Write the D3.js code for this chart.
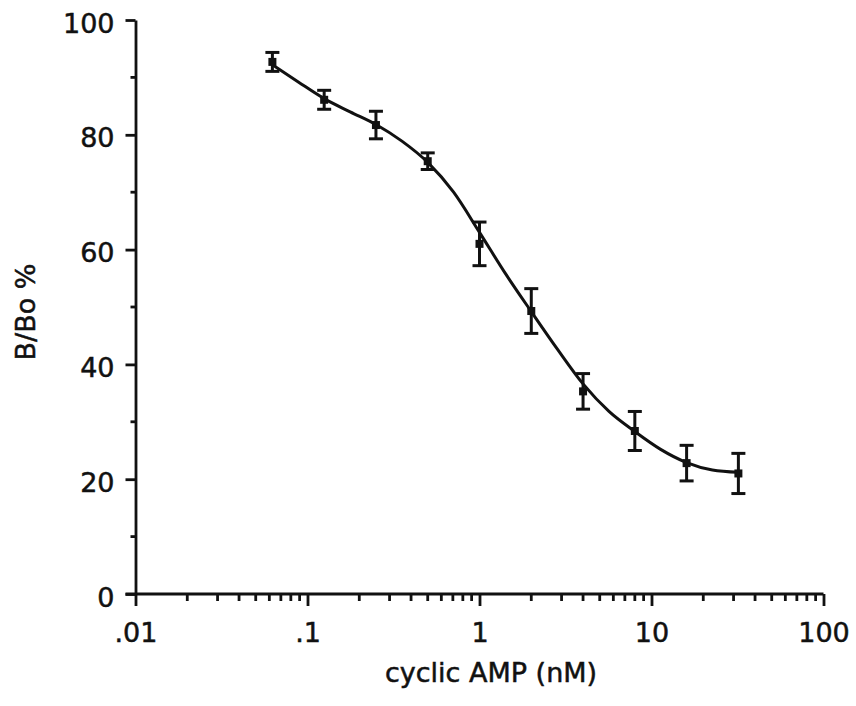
<!DOCTYPE html>
<html>
<head>
<meta charset="utf-8">
<script src="https://cdn.jsdelivr.net/npm/d3@7"></script>
<style>
  body { margin: 0; background: #fff; }
  text { font-family: "DejaVu Sans", sans-serif; fill: #111; stroke: #111; stroke-width: 0.5; }
</style>
</head>
<body>
<div id="chart"></div>
<script>
// cyclic AMP standard curve (doubling dilutions)
let conc = [0.0625, 0.125, 0.25, 0.5, 1, 2, 4, 8, 16, 32];
let ratio = [92.7, 86.1, 81.7, 75.4, 61.0, 49.3, 35.3, 28.4, 22.8, 21.0];
let errs = [1.65, 1.65, 2.4, 1.45, 3.8, 3.9, 3.1, 3.4, 3.1, 3.5];

// fitted curve
let fitConc = [0.0625, 0.0884, 0.125, 0.177, 0.25, 0.354, 0.5, 0.707, 1, 1.41,
               2, 2.83, 4, 5.66, 8, 11.3, 16, 22.6, 32];
let fitRatio = [92.2, 89.2, 86.3, 84.0, 81.8, 78.9, 75.2, 70.0, 63.0, 55.9,
                49.2, 42.7, 36.6, 31.8, 28.3, 25.2, 22.9, 21.6, 21.2];

let xTicks = [0.01, 0.1, 1, 10, 100];
let xTickLabels = [".01", ".1", "1", "10", "100"];
let yTicks = [0, 20, 40, 60, 80, 100];

let width = 856;
let height = 706;

let xScale = d3.scaleLog()
  .domain([0.01, 100])
  .range([135.5, 823.5]);

let yScale = d3.scaleLinear()
  .domain([0, 100])
  .range([594, 20]);

let svg = d3.select("#chart").append("svg")
  .attr("width", width)
  .attr("height", height);

svg.append("rect")
  .attr("width", width)
  .attr("height", height)
  .attr("fill", "#fff");

// minor ticks 2..9 in every decade
let minorX = [];
for (let d = 0.01; d < 100; d *= 10)
  for (let k = 2; k <= 9; k++)
    minorX.push(d * k);

let xAxis = d3.axisBottom(xScale)
  .tickValues(xTicks)
  .tickFormat((d, i) => xTickLabels[i])
  .tickSizeInner(12)
  .tickSizeOuter(0)
  .tickPadding(8);

let gx = svg.append("g")
  .attr("transform", `translate(0,${yScale(0)})`)
  .call(xAxis);

gx.selectAll("text")
  .attr("font-size", 27)
  .attr("dy", "1.02em");

gx.selectAll(".minor")
  .data(minorX)
  .enter()
  .append("line")
  .attr("class", "minor")
  .attr("x1", d => xScale(d))
  .attr("x2", d => xScale(d))
  .attr("y1", 0)
  .attr("y2", 7);

let yAxis = d3.axisLeft(yScale)
  .tickValues(yTicks)
  .tickSizeInner(10)
  .tickSizeOuter(0)
  .tickPadding(11);

let gy = svg.append("g")
  .attr("transform", `translate(${xScale(0.01)},0)`)
  .call(yAxis);

gy.selectAll("text")
  .attr("font-size", 27)
  .attr("dy", "0.45em");

gy.selectAll(".minor")
  .data([10, 30, 50, 70, 90])
  .enter()
  .append("line")
  .attr("class", "minor")
  .attr("x1", 0)
  .attr("x2", -5)
  .attr("y1", d => yScale(d))
  .attr("y2", d => yScale(d));

gx.select(".domain").attr("d", `M${xScale(0.01) - 10},0H${xScale(100)}`);

// heavier axis strokes like the scanned original
svg.selectAll("g line, g .domain")
  .attr("stroke", "#111")
  .attr("stroke-width", 2.8);

// axis titles
svg.append("text")
  .attr("x", 491)
  .attr("y", 682)
  .attr("text-anchor", "middle")
  .attr("font-size", 27)
  .text("cyclic AMP (nM)");

svg.append("text")
  .attr("transform", "translate(35,312) rotate(-90)")
  .attr("text-anchor", "middle")
  .attr("font-size", 27)
  .text("B/Bo %");

let data = conc.map((c, i) => ({ x: c, y: ratio[i], e: errs[i] }));
let fit = fitConc.map((c, i) => ({ x: c, y: fitRatio[i] }));

// fitted curve
let line = d3.line()
  .x(d => xScale(d.x))
  .y(d => yScale(d.y))
  .curve(d3.curveMonotoneX);

svg.append("path")
  .datum(fit)
  .attr("d", line)
  .attr("fill", "none")
  .attr("stroke", "#111")
  .attr("stroke-width", 3);

// error bars
let bars = svg.selectAll(".err")
  .data(data)
  .enter()
  .append("g")
  .attr("class", "err")
  .attr("stroke", "#111")
  .attr("stroke-width", 3);

bars.append("line")
  .attr("x1", d => xScale(d.x))
  .attr("x2", d => xScale(d.x))
  .attr("y1", d => yScale(d.y + d.e))
  .attr("y2", d => yScale(d.y - d.e));

bars.append("line")
  .attr("x1", d => xScale(d.x) - 7)
  .attr("x2", d => xScale(d.x) + 7)
  .attr("y1", d => yScale(d.y + d.e))
  .attr("y2", d => yScale(d.y + d.e));

bars.append("line")
  .attr("x1", d => xScale(d.x) - 7)
  .attr("x2", d => xScale(d.x) + 7)
  .attr("y1", d => yScale(d.y - d.e))
  .attr("y2", d => yScale(d.y - d.e));

// point markers
svg.selectAll(".pt")
  .data(data)
  .enter()
  .append("rect")
  .attr("class", "pt")
  .attr("x", d => xScale(d.x) - 4)
  .attr("y", d => yScale(d.y) - 4)
  .attr("width", 8)
  .attr("height", 8)
  .attr("fill", "#111");
</script>
</body>
</html>
